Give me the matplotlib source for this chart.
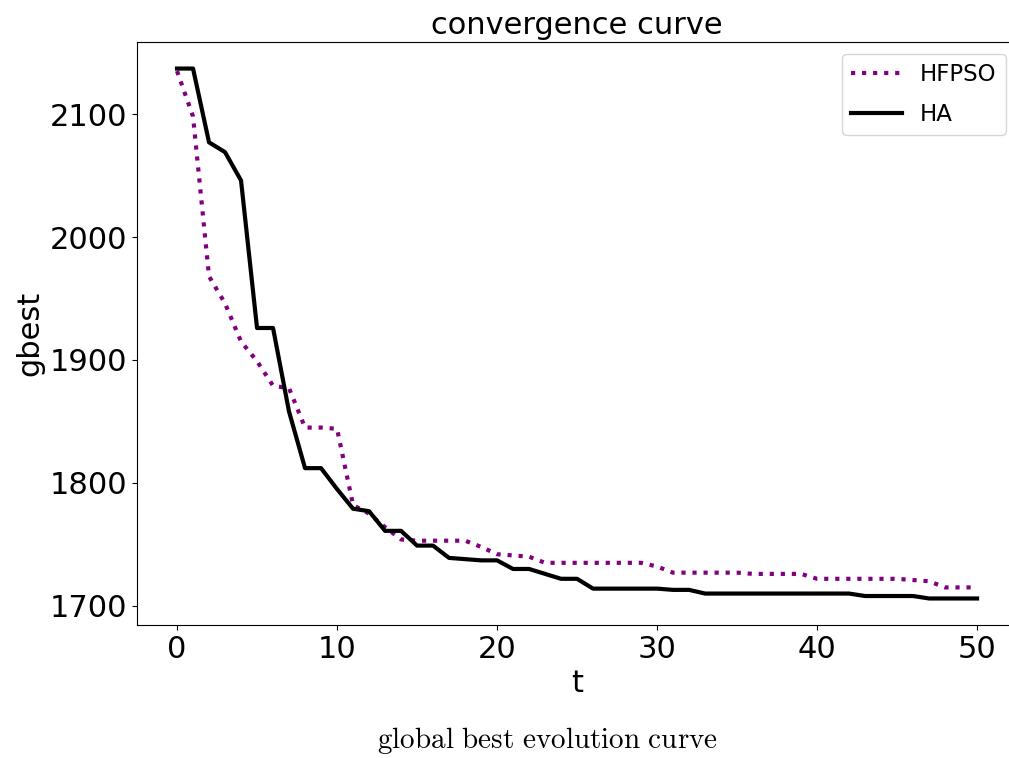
"""Convergence curve: gbest over iterations for HFPSO vs HA."""

import matplotlib

matplotlib.use("Agg")
import matplotlib.pyplot as plt

ITERATIONS = list(range(51))

HFPSO_GBEST = [
    2135, 2098, 1968, 1946, 1915, 1899, 1879, 1877, 1845, 1845,
    1844, 1782, 1775, 1764, 1754, 1753, 1753, 1753, 1753, 1748,
    1742, 1741, 1740, 1735, 1735, 1735, 1735, 1735, 1735, 1735,
    1732, 1727, 1727, 1727, 1727, 1727, 1726, 1726, 1726, 1726,
    1722, 1722, 1722, 1722, 1722, 1722, 1721, 1720, 1715, 1715,
    1715,
]

HA_GBEST = [
    2137, 2137, 2077, 2069, 2046, 1926, 1926, 1858, 1812, 1812,
    1795, 1779, 1777, 1761, 1761, 1749, 1749, 1739, 1738, 1737,
    1737, 1730, 1730, 1726, 1722, 1722, 1714, 1714, 1714, 1714,
    1714, 1713, 1713, 1710, 1710, 1710, 1710, 1710, 1710, 1710,
    1710, 1710, 1710, 1708, 1708, 1708, 1708, 1706, 1706, 1706,
    1706,
]

plt.rcParams["mathtext.fontset"] = "cm"

fig = plt.figure(figsize=(10.09, 7.58), dpi=100)
# the axes runs a little past the right edge of the figure, as in the original
ax = fig.add_axes([0.1358, 0.1755, 0.8722, 0.769])

ax.plot(ITERATIONS, HFPSO_GBEST, linestyle=":", color="purple", linewidth=3, label="HFPSO")
ax.plot(ITERATIONS, HA_GBEST, linestyle="-", color="black", linewidth=3, label="HA")

ax.set_title("convergence curve", fontsize=22)
ax.set_xlabel("t", fontsize=22)
ax.set_ylabel("gbest", fontsize=22)
ax.set_xticks([0, 10, 20, 30, 40, 50])
ax.set_yticks([1700, 1800, 1900, 2000, 2100])
ax.tick_params(axis="both", labelsize=22)
ax.legend(loc="upper right", fontsize=16.5, labelspacing=0.75, handlelength=2.2)

fig.text(0.543, 0.013, r"$\mathrm{global\ best\ evolution\ curve}$", ha="center", fontsize=21)

fig.savefig("out.png", dpi=100)
